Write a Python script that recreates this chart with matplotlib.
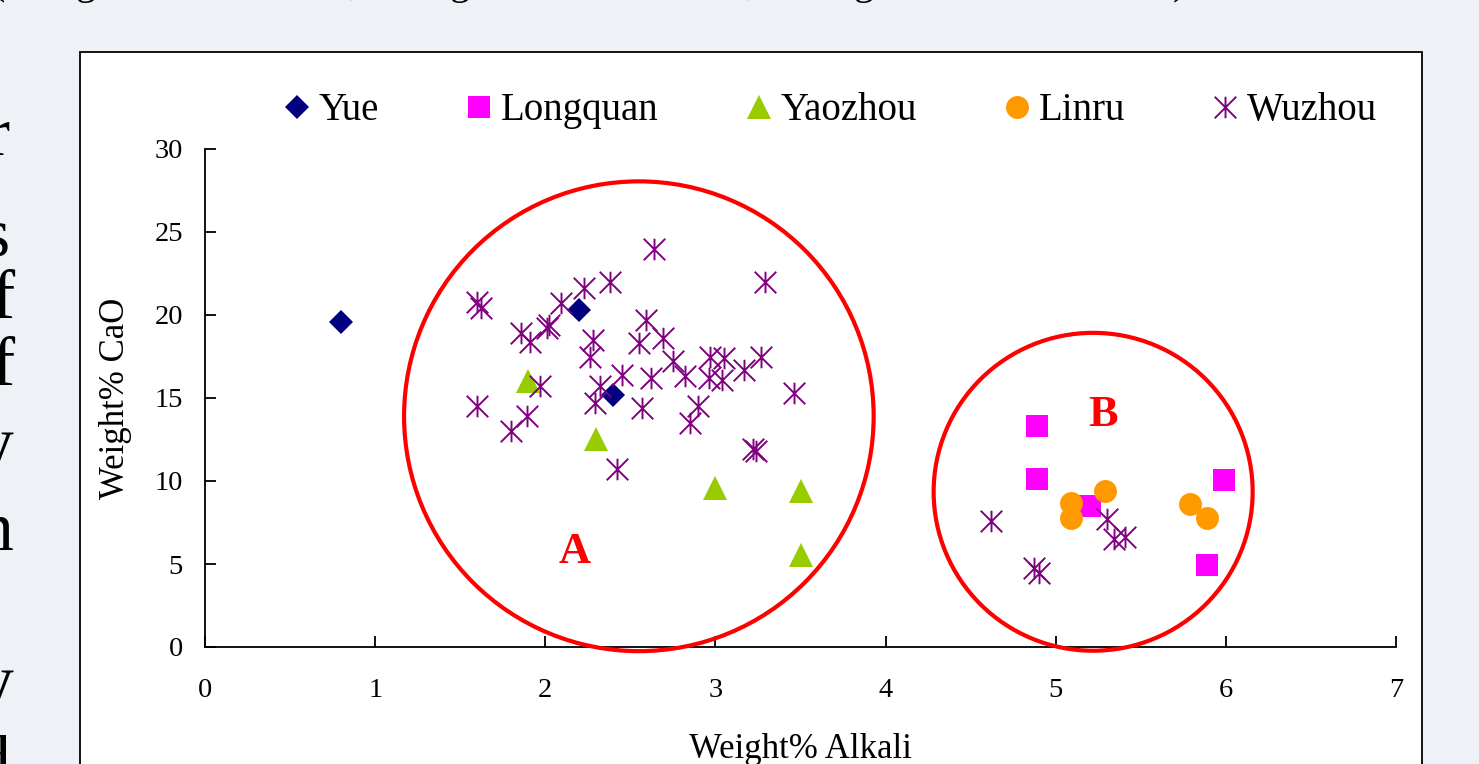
import numpy as np
import matplotlib.pyplot as plt
from matplotlib.path import Path
from matplotlib.patches import Ellipse, Rectangle

plt.rcParams["font.family"] = ["Liberation Serif", "DejaVu Serif"]

# values: x = Weight% Alkali, y = Weight% CaO
yue_x = [0.80, 2.20, 2.40]
yue_y = [19.6, 20.3, 15.2]

longquan_x = [4.89, 4.89, 5.20, 5.99, 5.89]
longquan_y = [13.3, 10.15, 8.5, 10.05, 4.95]

yaozhou_x = [1.90, 2.30, 3.00, 3.50, 3.50]
yaozhou_y = [16.05, 12.55, 9.55, 9.4, 5.55]

linru_x = [5.09, 5.09, 5.29, 5.79, 5.89]
linru_y = [8.7, 7.75, 9.4, 8.6, 7.8]

wuzhou_x = [2.64, 2.38, 3.29, 2.23, 2.09, 1.60, 1.62, 2.59, 2.02, 2.01,
            1.86, 1.91, 2.28, 2.55, 2.69, 2.26, 2.75, 2.97, 3.05, 3.27,
            2.82, 2.96, 3.04, 3.17, 2.45, 2.62, 2.32, 1.97, 3.46, 1.60,
            2.29, 2.57, 2.90, 1.89, 2.85, 1.80, 3.22, 3.24, 2.42,
            4.62, 5.30, 5.34, 5.41, 4.87, 4.90]
wuzhou_y = [24.0, 22.0, 22.0, 21.6, 20.7, 20.8, 20.4, 19.7, 19.4, 19.2,
            18.9, 18.4, 18.5, 18.3, 18.6, 17.5, 17.2, 17.5, 17.4, 17.5,
            16.3, 16.2, 16.1, 16.7, 16.4, 16.2, 15.7, 15.7, 15.3, 14.5,
            14.7, 14.4, 14.5, 13.9, 13.5, 13.0, 11.9, 11.8, 10.7,
            7.6, 7.7, 6.5, 6.6, 4.75, 4.45]

# group outlines (centre x, centre y, width, height in data units)
group_a = (2.55, 13.9, 2.76, 28.3)
group_b = (5.22, 9.35, 1.875, 19.15)

bg = "#EEF1F6"
fig = plt.figure(figsize=(14.79, 7.64), dpi=100, facecolor=bg)

# white chart box of the slide, runs off the bottom edge
fig.patches.append(Rectangle((80 / 1479, -0.1), (1422 - 80) / 1479,
                             1.1 - 52 / 764, transform=fig.transFigure,
                             facecolor="white", edgecolor="black",
                             linewidth=1.3, zorder=-1))

# slide text around the chart, mostly outside the screenshot
for ch, xp in [("(", -2), ("g", 85), (",", 354), ("g", 459), (",", 752),
               ("g", 863), (")", 1179)]:
    fig.text(xp / 1479, 1 + 6 / 764, ch, fontsize=29, ha="center",
             va="baseline", color="black")
for ch, xr, yp in [("r", 10, 155), ("s", 9, 255), ("f", 15, 318),
                   ("f", 15, 385), ("y", 13, 465), ("n", 13, 550),
                   ("y", 13, 703), ("d", 10, 783)]:
    fig.text(xr / 1479, 1 - yp / 764, ch, fontsize=50, ha="right",
             va="baseline", color="black")

ax = fig.add_axes([205 / 1479, 1 - 647 / 764, 1191 / 1479, 498 / 764])
ax.set_facecolor("none")

asterisk = Path([(0, -1), (0, 1), (-1, -1), (1, 1), (-1, 1), (1, -1)],
                [Path.MOVETO, Path.LINETO, Path.MOVETO, Path.LINETO,
                 Path.MOVETO, Path.LINETO])

ax.plot(yue_x, yue_y, ls="none", marker="D", ms=12.5, mew=0,
        color="#000080", label="Yue", zorder=3)
ax.plot(longquan_x, longquan_y, ls="none", marker="s", ms=16, mew=0,
        color="#FF00FF", label="Longquan", zorder=3)
ax.plot(yaozhou_x, yaozhou_y, ls="none", marker="^", ms=17, mew=0,
        color="#99CC00", label="Yaozhou", zorder=3)
ax.plot(linru_x, linru_y, ls="none", marker="o", ms=16.5, mew=0,
        color="#FF9900", label="Linru", zorder=3)
ax.plot(wuzhou_x, wuzhou_y, ls="none", marker=asterisk, ms=15.5, mew=1.4,
        color="#800080", label="Wuzhou", zorder=3)

for cx, cy, w, h in (group_a, group_b):
    ax.add_patch(Ellipse((cx, cy), w, h, fill=False, edgecolor="#FF0000",
                         linewidth=3, clip_on=False, zorder=4))
ax.text(2.175, 5.74, "A", color="#FF0000", fontsize=32, fontweight="bold",
        ha="center", va="center")
ax.text(5.28, 13.98, "B", color="#FF0000", fontsize=32, fontweight="bold",
        ha="center", va="center")

ax.set_xlim(0, 7)
ax.set_ylim(0, 30)
ax.set_xticks(range(0, 8))
ax.set_yticks(range(0, 31, 5))
ax.spines["top"].set_visible(False)
ax.spines["right"].set_visible(False)
for s in ("left", "bottom"):
    ax.spines[s].set_linewidth(1.3)
ax.tick_params(direction="in", length=8, width=1.3, labelsize=20.5)
ax.tick_params(axis="x", pad=22)
ax.tick_params(axis="y", pad=16)

ax.set_xlabel("Weight% Alkali", fontsize=25)
ax.set_ylabel("Weight% CaO", fontsize=25)
ax.xaxis.set_label_coords(0.5, -0.172)
ax.yaxis.set_label_coords(-0.061, 0.5)

fig.legend(loc="center", bbox_to_anchor=(0.562, 0.855), ncol=5,
           frameon=False, fontsize=28, handlelength=0.6,
           handletextpad=0.25, columnspacing=2.28, borderaxespad=0)

fig.savefig("out.png", dpi=100, facecolor=bg)
